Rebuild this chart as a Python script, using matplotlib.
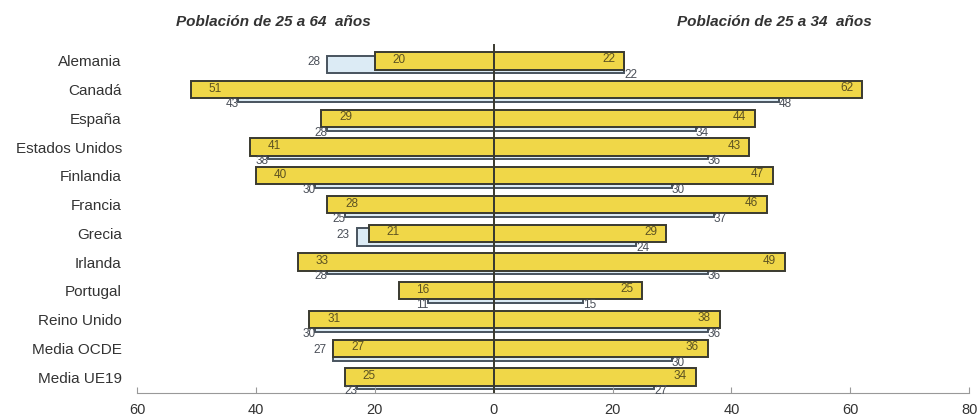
import matplotlib
matplotlib.use("Agg")
import matplotlib.pyplot as plt
import numpy as np

plt.rcParams["font.family"] = ["Liberation Sans", "DejaVu Sans"]

countries = ["Alemania", "Canadá", "España", "Estados Unidos", "Finlandia", "Francia",
             "Grecia", "Irlanda", "Portugal", "Reino Unido", "Media OCDE", "Media UE19"]

# Población de 25 a 64 años (left side)
left_yellow = [20, 51, 29, 41, 40, 28, 21, 33, 16, 31, 27, 25]
left_blue = [28, 43, 28, 38, 30, 25, 23, 28, 11, 30, 27, 23]

# Población de 25 a 34 años (right side)
right_yellow = [22, 62, 44, 43, 47, 46, 29, 49, 25, 38, 36, 34]
right_blue = [22, 48, 34, 36, 30, 37, 24, 36, 15, 36, 30, 27]

xticks = [-60, -40, -20, 0, 20, 40, 60, 80]

YELLOW = "#f0d748"
BLUE = "#dcebf5"
EDGE = "#3a3a30"
BLUE_EDGE = "#48535e"
TXT_Y = "#5c5222"
TXT_B = "#4a4f58"


def main() -> None:
    fig = plt.figure(figsize=(9.79, 4.2), dpi=100)
    ax = fig.add_axes([0.14, 0.064, 0.85, 0.841])

    y = np.arange(len(countries))
    h = 0.6
    off = 0.13

    # blue bars behind, shifted down
    ax.barh(y + off, [-v for v in left_blue], height=h, color=BLUE,
            edgecolor=BLUE_EDGE, linewidth=1.4, zorder=1)
    ax.barh(y + off, right_blue, height=h, color=BLUE,
            edgecolor=BLUE_EDGE, linewidth=1.4, zorder=1)
    # yellow bars in front
    ax.barh(y, [-v for v in left_yellow], height=h, color=YELLOW,
            edgecolor=EDGE, linewidth=1.4, zorder=2)
    ax.barh(y, right_yellow, height=h, color=YELLOW,
            edgecolor=EDGE, linewidth=1.4, zorder=2)

    fs = 8.5
    for i in range(len(countries)):
        ly, lb = left_yellow[i], left_blue[i]
        ry, rb = right_yellow[i], right_blue[i]
        # left labels
        ax.text(-(ly - 3), i - 0.03, str(ly), ha="left", va="center",
                fontsize=fs, color=TXT_Y, zorder=4)
        if lb >= ly:
            ax.text(-(lb + 1.2), i + 0.05, str(lb), ha="right", va="center",
                    fontsize=fs, color=TXT_B, zorder=4)
        else:
            ax.text(-(lb + 1), i + 0.5, str(lb), ha="center", va="center",
                    fontsize=fs, color=TXT_B, zorder=4)
        # right labels
        ax.text(ry - 1.5, i - 0.05, str(ry), ha="right", va="center",
                fontsize=fs, color=TXT_Y, zorder=4)
        ax.text(rb, i + 0.5, str(rb), ha="left", va="center",
                fontsize=fs, color=TXT_B, zorder=4)

    ax.axvline(0, ymin=0, ymax=0.985, color=EDGE, linewidth=1.4, zorder=3)

    ax.set_xlim(-60, 80)
    ax.set_ylim(11.56, -0.73)
    ax.set_xticks(xticks)
    ax.set_xticklabels([str(abs(t)) for t in xticks], fontsize=10.5, color="#333333")
    ax.tick_params(axis="x", direction="in", length=4, color="#999999", pad=7)
    ax.set_yticks(y)
    ax.set_yticklabels(countries, fontsize=11, color="#333333")
    ax.tick_params(axis="y", length=0, pad=11)

    for side in ["top", "right", "left"]:
        ax.spines[side].set_visible(False)
    ax.spines["bottom"].set_color("#999999")

    fig.text(0.279, 0.947, "Población de 25 a 64  años", ha="center", va="center",
             fontsize=11, fontweight="bold", fontstyle="italic", color="#333333")
    fig.text(0.791, 0.947, "Población de 25 a 34  años", ha="center", va="center",
             fontsize=11, fontweight="bold", fontstyle="italic", color="#333333")

    fig.savefig("out.png", dpi=100)


if __name__ == "__main__":
    main()
